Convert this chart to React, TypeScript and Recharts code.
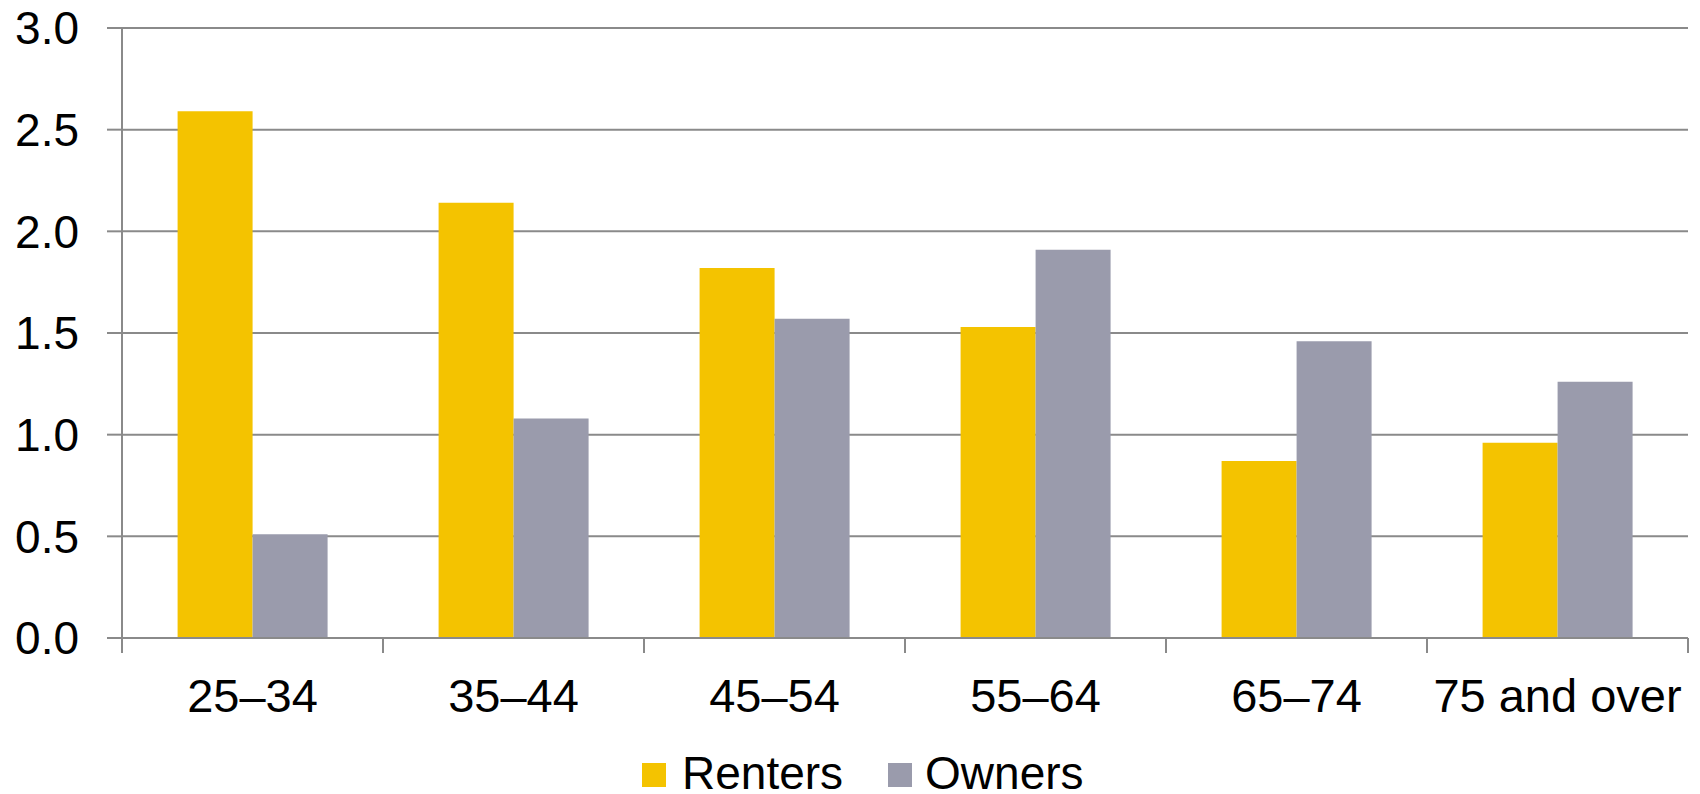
import { BarChart, Bar, XAxis, YAxis, CartesianGrid, Legend } from 'recharts'

const ageGroups = ['25–34', '35–44', '45–54', '55–64', '65–74', '75 and over']
const renters = [2.59, 2.14, 1.82, 1.53, 0.87, 0.96]
const owners = [0.51, 1.08, 1.57, 1.91, 1.46, 1.26]
const yTicks = [0, 0.5, 1, 1.5, 2, 2.5, 3]

const data = ageGroups.map((age, i) => ({ age, renters: renters[i], owners: owners[i] }))

const FONT = '"Liberation Sans", Arial, sans-serif'
const YELLOW = '#f4c300'
const GREY = '#9a9bac'
const LINE = '#8a8a8a'
const TICK_SIZE = 15
const TICK_MARGIN = 26

// ticks sit on category boundaries (Excel style), labels stay centred
function CategoryTick(props: any) {
  const { x, y, width, visibleTicksCount, index, payload } = props
  const band = width / visibleTicksCount
  const axisY = y - TICK_SIZE - TICK_MARGIN
  const left = x - band / 2
  const right = x + band / 2
  return (
    <g>
      <line x1={left} x2={left} y1={axisY} y2={axisY + TICK_SIZE} stroke={LINE} strokeWidth={2} />
      {index === visibleTicksCount - 1 && (
        <line x1={right} x2={right} y1={axisY} y2={axisY + TICK_SIZE} stroke={LINE} strokeWidth={2} />
      )}
      <text x={x} y={y} dy="0.71em" textAnchor="middle" fill="#000" fontSize={47} fontFamily={FONT}>
        {payload.value}
      </text>
    </g>
  )
}

function LegendRow() {
  const box = { width: 24, height: 24, marginTop: 9, flexShrink: 0 }
  return (
    <div
      style={{
        display: 'flex',
        paddingLeft: 642,
        height: 38,
        lineHeight: '38px',
        fontSize: 46,
        fontFamily: FONT,
        color: '#000',
        whiteSpace: 'nowrap',
      }}
    >
      <span style={{ ...box, background: YELLOW, marginRight: 16 }} />
      <span>Renters</span>
      <span style={{ ...box, background: GREY, marginLeft: 45, marginRight: 13 }} />
      <span>Owners</span>
    </div>
  )
}

export default function App() {
  return (
    <div>
      <style>{'body{margin:0}'}</style>
      <BarChart
        width={1700}
        height={794}
        data={data}
        margin={{ top: 28, right: 12, left: 0, bottom: 0 }}
        barCategoryGap="21.3%"
        barGap={0}
      >
        <CartesianGrid vertical={false} stroke={LINE} strokeWidth={2} />
        <XAxis
          dataKey="age"
          height={118}
          axisLine={{ stroke: LINE, strokeWidth: 2 }}
          tickLine={false}
          tickSize={TICK_SIZE}
          tickMargin={TICK_MARGIN}
          tick={<CategoryTick />}
          interval={0}
        />
        <YAxis
          width={122}
          domain={[0, 3]}
          ticks={yTicks}
          tickFormatter={(v: number) => v.toFixed(1)}
          axisLine={{ stroke: LINE, strokeWidth: 2 }}
          tickLine={{ stroke: LINE, strokeWidth: 2 }}
          tickSize={TICK_SIZE}
          tickMargin={28}
          tick={{ fill: '#000', fontSize: 46, fontFamily: FONT }}
        />
        <Legend
          verticalAlign="bottom"
          content={<LegendRow />}
          wrapperStyle={{ left: 0, width: 1700, bottom: 2 }}
        />
        <Bar dataKey="renters" name="Renters" fill={YELLOW} isAnimationActive={false} />
        <Bar dataKey="owners" name="Owners" fill={GREY} isAnimationActive={false} />
      </BarChart>
    </div>
  )
}
